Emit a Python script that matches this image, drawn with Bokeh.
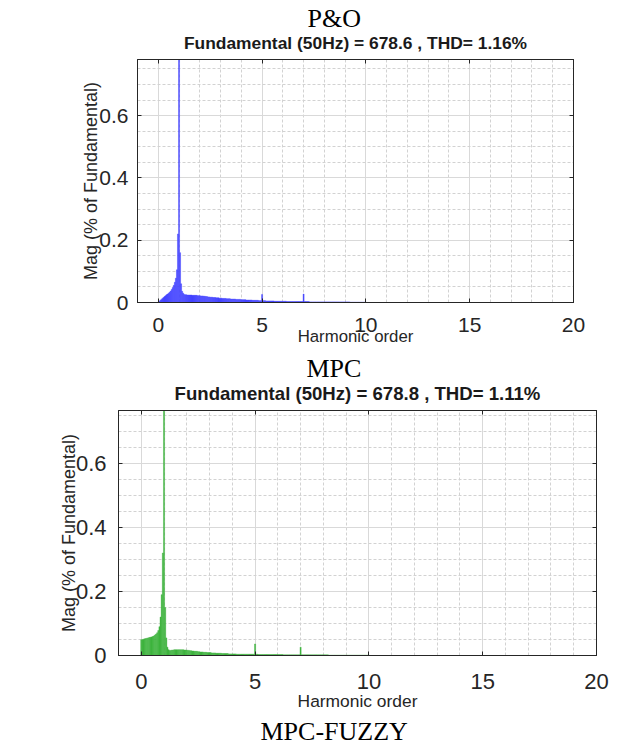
from bokeh.plotting import figure
from bokeh.layouts import column
from bokeh.models import (Range1d, FixedTicker, LinearAxis, ColumnDataSource,
                          PrintfTickFormatter, CustomJSTickFormatter, Title)
from bokeh.embed import file_html
from bokeh.resources import INLINE

# ---------------- data ----------------
BIN = 0.05  # spectrum bin spacing in harmonic order
harmonic_order = [round(i * BIN, 2) for i in range(201)]  # 0.00 .. 10.00

# P&O spectrum (% of fundamental), 20 bins per harmonic unit
po_mag = [
    0.001, 0.004, 0.007, 0.010, 0.013, 0.016, 0.019, 0.022, 0.025, 0.027,
    0.030, 0.033, 0.037, 0.042, 0.048, 0.055, 0.065, 0.078, 0.105, 0.220,
    100.0, 0.160, 0.060, 0.036, 0.030, 0.026, 0.025, 0.025, 0.024, 0.024,
    0.024, 0.024, 0.024, 0.023, 0.023, 0.023, 0.023, 0.023, 0.022, 0.022,
    0.022, 0.021, 0.021, 0.021, 0.020, 0.020, 0.019, 0.019, 0.018, 0.018,
    0.017, 0.017, 0.017, 0.016, 0.016, 0.016, 0.015, 0.015, 0.015, 0.014,
    0.014, 0.014, 0.013, 0.013, 0.013, 0.013, 0.012, 0.012, 0.012, 0.012,
    0.011, 0.011, 0.011, 0.011, 0.011, 0.010, 0.010, 0.010, 0.010, 0.010,
    0.009, 0.009, 0.009, 0.009, 0.009, 0.008, 0.008, 0.008, 0.008, 0.008,
    0.008, 0.007, 0.007, 0.007, 0.007, 0.007, 0.007, 0.006, 0.006, 0.006,
    0.026, 0.006, 0.006, 0.006, 0.005, 0.005, 0.005, 0.005, 0.005, 0.005,
    0.005, 0.005, 0.004, 0.004, 0.004, 0.004, 0.004, 0.004, 0.004, 0.004,
    0.004, 0.004, 0.004, 0.004, 0.003, 0.003, 0.003, 0.003, 0.003, 0.003,
    0.003, 0.003, 0.003, 0.003, 0.003, 0.003, 0.003, 0.003, 0.003, 0.003,
    0.027, 0.003, 0.003, 0.003, 0.003, 0.003, 0.002, 0.002, 0.002, 0.002,
    0.002, 0.002, 0.002, 0.002, 0.002, 0.002, 0.002, 0.002, 0.002, 0.002,
    0.002, 0.002, 0.002, 0.002, 0.002, 0.002, 0.002, 0.002, 0.002, 0.002,
    0.002, 0.002, 0.002, 0.002, 0.002, 0.002, 0.002, 0.002, 0.002, 0.002,
    0.002, 0.002, 0.002, 0.002, 0.002, 0.001, 0.001, 0.001, 0.001, 0.001,
    0.001, 0.001, 0.001, 0.001, 0.001, 0.001, 0.001, 0.001, 0.001, 0.001,
    0.001,
]

# MPC spectrum (% of fundamental)
mpc_mag = [
    0.049, 0.050, 0.051, 0.052, 0.053, 0.054, 0.055, 0.056, 0.057, 0.058,
    0.059, 0.061, 0.064, 0.067, 0.071, 0.078, 0.090, 0.120, 0.190, 0.320,
    100.0, 0.150, 0.055, 0.026, 0.018, 0.016, 0.016, 0.017, 0.017, 0.018,
    0.018, 0.018, 0.018, 0.018, 0.018, 0.018, 0.018, 0.018, 0.017, 0.017,
    0.017, 0.016, 0.016, 0.015, 0.015, 0.014, 0.014, 0.013, 0.013, 0.013,
    0.012, 0.012, 0.011, 0.011, 0.011, 0.010, 0.010, 0.010, 0.009, 0.009,
    0.009, 0.009, 0.008, 0.008, 0.008, 0.008, 0.007, 0.007, 0.007, 0.007,
    0.007, 0.006, 0.006, 0.006, 0.006, 0.006, 0.006, 0.005, 0.005, 0.005,
    0.005, 0.005, 0.005, 0.005, 0.004, 0.004, 0.004, 0.004, 0.004, 0.004,
    0.004, 0.004, 0.004, 0.004, 0.004, 0.004, 0.004, 0.004, 0.004, 0.004,
    0.036, 0.004, 0.004, 0.003, 0.003, 0.003, 0.003, 0.003, 0.003, 0.003,
    0.003, 0.003, 0.003, 0.003, 0.003, 0.003, 0.003, 0.003, 0.003, 0.003,
    0.003, 0.003, 0.003, 0.003, 0.003, 0.002, 0.002, 0.002, 0.002, 0.002,
    0.002, 0.002, 0.002, 0.002, 0.002, 0.002, 0.002, 0.002, 0.002, 0.002,
    0.026, 0.002, 0.002, 0.002, 0.002, 0.002, 0.002, 0.002, 0.002, 0.002,
    0.002, 0.002, 0.002, 0.002, 0.002, 0.002, 0.002, 0.002, 0.002, 0.002,
    0.002, 0.002, 0.002, 0.002, 0.002, 0.001, 0.001, 0.001, 0.001, 0.001,
    0.001, 0.001, 0.001, 0.001, 0.001, 0.001, 0.001, 0.001, 0.001, 0.001,
    0.001, 0.001, 0.001, 0.001, 0.001, 0.001, 0.001, 0.001, 0.001, 0.001,
    0.001, 0.001, 0.001, 0.001, 0.001, 0.001, 0.001, 0.001, 0.001, 0.001,
    0.001,
]

x_ticks = [0, 5, 10, 15, 20]
x_minor = list(range(-1, 21))
y_ticks = [0, 0.2, 0.4, 0.6]
y_minor = [0.05, 0.1, 0.15, 0.25, 0.3, 0.35, 0.45, 0.5, 0.55, 0.65, 0.7, 0.75]

panels = [
    dict(name="P&O", subtitle="Fundamental (50Hz) = 678.6 , THD= 1.16%",
         mag=po_mag, color="#4444ff", y_end=0.78),
    dict(name="MPC", subtitle="Fundamental (50Hz) = 678.8 , THD= 1.11%",
         mag=mpc_mag, color="#3fb43f", y_end=0.765),
]

AX = "#262626"
SANS = "Liberation Sans"
SERIF = "Liberation Serif"


def make_panel(d, fw, fh, bl, br, bt, bb, tick_fs, ylab_std, xlab_std,
               ytick_std, xtick_std, lab_fs, xlab_fs, sub_fs, name_off,
               sub_std, name_std):
    p = figure(frame_width=fw, frame_height=fh,
               min_border_left=bl, min_border_right=br,
               min_border_top=bt, min_border_bottom=bb,
               x_range=Range1d(-1, 20), y_range=Range1d(0, d["y_end"]),
               output_backend="svg", toolbar_location=None, tools="")
    p.frame_align = False
    p.background_fill_color = "white"
    p.border_fill_color = "white"
    p.outline_line_color = AX
    p.outline_line_width = 1

    src = ColumnDataSource(dict(order=harmonic_order, mag=d["mag"]))
    p.vbar(x="order", top="mag", bottom=0, width=BIN, source=src,
           fill_color=d["color"], line_color=d["color"], line_width=0.4)

    xt = FixedTicker(ticks=x_ticks, minor_ticks=x_minor)
    yt = FixedTicker(ticks=y_ticks, minor_ticks=y_minor)
    p.xaxis.ticker = xt
    p.yaxis.ticker = yt
    p.yaxis.formatter = PrintfTickFormatter(format="%g")

    for g, t in ((p.xgrid, xt), (p.ygrid, yt)):
        g.ticker = t
        g.grid_line_color = "#d9d9d9"
        g.grid_line_width = 1
        g.minor_grid_line_color = "#d2d2d2"
        g.minor_grid_line_dash = "3 2"
        g.minor_grid_line_width = 1

    for ax in (p.xaxis[0], p.yaxis[0]):
        ax.axis_line_color = AX
        ax.major_tick_line_color = AX
        ax.major_tick_in = 4
        ax.major_tick_out = 0
        ax.minor_tick_line_color = None
        ax.major_label_text_font = SANS
        ax.major_label_text_font_size = f"{tick_fs}px"
        ax.major_label_text_color = AX
        ax.axis_label_text_font = SANS
        ax.axis_label_text_font_style = "normal"
        ax.axis_label_text_color = AX

    p.xaxis.axis_label = "Harmonic order"
    p.xaxis.axis_label_text_font_size = f"{xlab_fs}px"
    p.xaxis.axis_label_standoff = xlab_std
    p.xaxis.major_label_standoff = xtick_std
    p.yaxis.axis_label = "Mag (% of Fundamental)"
    p.yaxis.axis_label_text_font_size = f"{lab_fs}px"
    p.yaxis.axis_label_standoff = ylab_std
    p.yaxis.major_label_standoff = ytick_std

    # box ticks on top and right (no labels)
    for side, t in (("above", xt), ("right", yt)):
        ax = LinearAxis(ticker=t, axis_line_color=AX, major_tick_line_color=AX,
                        major_tick_in=4, major_tick_out=0, minor_tick_line_color=None,
                        formatter=CustomJSTickFormatter(code="return ''"),
                        major_label_standoff=0)
        p.add_layout(ax, side)

    p.add_layout(Title(text=d["subtitle"], align="center", text_font=SANS,
                       text_font_size=f"{sub_fs}px", text_font_style="bold",
                       text_color="#1a1a1a", standoff=sub_std), "above")
    p.add_layout(Title(text=d["name"], align="left", offset=name_off, text_font=SERIF,
                       text_font_size="26px", text_font_style="normal",
                       text_color="black", standoff=name_std), "above")
    return p


p1 = make_panel(panels[0], fw=436, fh=243, bl=137, br=40, bt=59, bb=46,
                tick_fs=21, ylab_std=-5, xlab_std=-8, ytick_std=5, xtick_std=11,
                lab_fs=18, xlab_fs=16.8, sub_fs=17.4, name_off=170,
                sub_std=6, name_std=-10)
p2 = make_panel(panels[1], fw=478, fh=245, bl=118, br=17, bt=62, bb=92,
                tick_fs=22, ylab_std=-6, xlab_std=-1, ytick_std=8, xtick_std=14,
                lab_fs=18, xlab_fs=17.4, sub_fs=18.6, name_off=188,
                sub_std=6, name_std=-10)

p2.add_layout(Title(text="MPC-FUZZY", align="left", offset=142, text_font=SERIF,
                    text_font_size="26px", text_font_style="normal",
                    text_color="black", standoff=2), "below")

layout = column(p1, p2)
open("out.html", "w").write(file_html(layout, INLINE))
